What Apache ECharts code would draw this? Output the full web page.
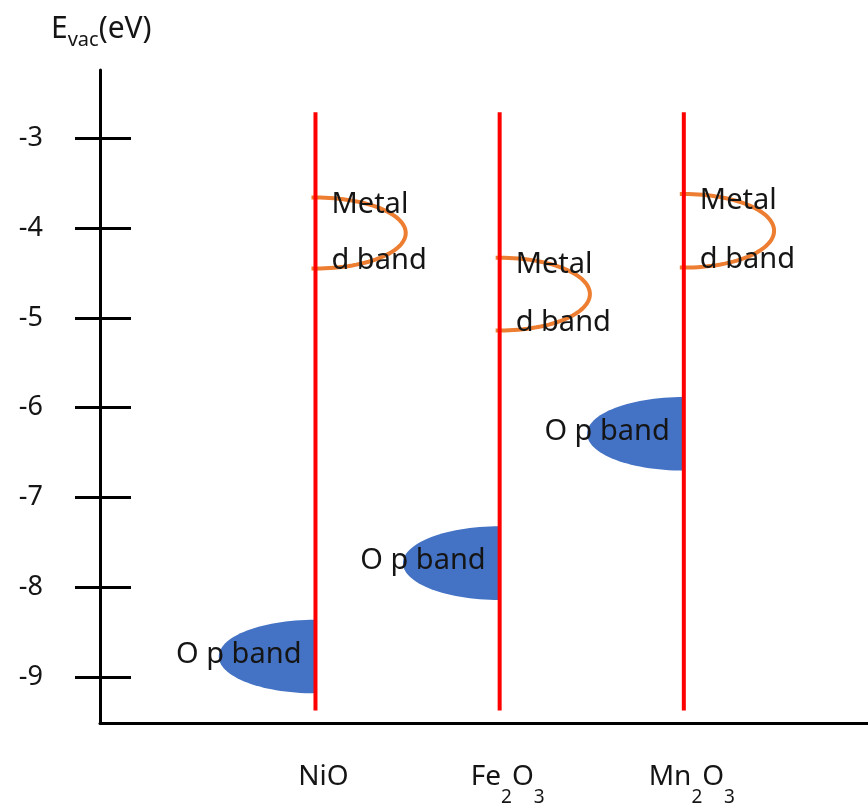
<!DOCTYPE html>
<html>
<head>
<meta charset="utf-8">
<script src="https://cdn.jsdelivr.net/npm/echarts@6/dist/echarts.min.js"></script>
<style>
  html, body { margin: 0; padding: 0; background: #fff; }
  #chart { width: 868px; height: 809px; }
</style>
</head>
<body>
<div id="chart"></div>
<script>
// ---- data ----
const materials = ['NiO', 'Fe2O3', 'Mn2O3'];
const materialLabels = ['{m|NiO}', '{m|Fe}{s|2}{m|O}{s|3}', '{m|Mn}{s|2}{m|O}{s|3}'];
const dBandTop = [-3.66, -4.33, -3.62];
const dBandBottom = [-4.45, -5.14, -4.44];
const opBandTop = [-8.36, -7.32, -5.88];
const opBandBottom = [-9.18, -8.14, -6.70];
const yTicks = [-3, -4, -5, -6, -7, -8, -9];
const lineTop = -2.71;
const lineBottom = -9.37;

// ---- drawing constants ----
const FONT = 'Noto Sans';
const TEXT_COLOR = '#151515';
const D_WIDTH = 0.49;   // x-units
const O_WIDTH = 0.525;  // x-units

const bandData = materials.map((m, i) => [i + 1, dBandTop[i], dBandBottom[i], opBandTop[i], opBandBottom[i]]);

function halfEllipse(cx, cy, rx, ry, side, n) {
  const pts = [];
  for (let k = 0; k <= n; k++) {
    const t = -Math.PI / 2 + Math.PI * k / n;
    pts.push([cx + side * rx * Math.cos(t), cy + ry * Math.sin(t)]);
  }
  return pts;
}

function renderItem(params, api) {
  const x = api.value(0);
  const cx = api.coord([x, lineTop])[0];
  const lt = api.coord([x, lineTop])[1];
  const lb = api.coord([x, lineBottom])[1];
  const dt = api.coord([x, api.value(1)])[1];
  const db = api.coord([x, api.value(2)])[1];
  const ot = api.coord([x, api.value(3)])[1];
  const ob = api.coord([x, api.value(4)])[1];
  const drx = api.size([D_WIDTH, 0])[0];
  const orx = api.size([O_WIDTH, 0])[0];

  const dPts = halfEllipse(cx, (dt + db) / 2, drx, (db - dt) / 2, 1, 60);
  dPts.unshift([cx - 4, dt]);
  dPts.push([cx - 4, db]);
  const oPts = halfEllipse(cx, (ot + ob) / 2, orx, (ob - ot) / 2, -1, 60);

  const textStyle = { fontSize: 29, fontFamily: FONT, fill: TEXT_COLOR, verticalAlign: 'middle' };
  return {
    type: 'group',
    children: [
      { type: 'polygon', shape: { points: oPts }, style: { fill: '#4472C4' } },
      { type: 'polyline', shape: { points: dPts }, style: { stroke: '#ED7D31', lineWidth: 4, fill: null } },
      { type: 'line', shape: { x1: cx, y1: lt, x2: cx, y2: lb }, style: { stroke: '#FF0000', lineWidth: 4 } },
      { type: 'text', style: Object.assign({ text: 'Metal', x: cx + 16, y: dt + 7, align: 'left' }, textStyle) },
      { type: 'text', style: Object.assign({ text: 'd band', x: cx + 16, y: db - 8, align: 'left' }, textStyle) },
      { type: 'text', style: Object.assign({ text: 'O p band', x: cx - 14, y: (ot + ob) / 2 - 2, align: 'right' }, textStyle) }
    ]
  };
}

const chart = echarts.init(document.getElementById('chart'), null, { renderer: 'canvas' });
chart.setOption({
  animation: false,
  backgroundColor: '#ffffff',
  title: {
    text: '{e|E}{s|vac}{e|(eV)}',
    left: 51,
    top: 8,
    padding: 0,
    textStyle: {
      fontWeight: 'normal',
      rich: {
        e: { fontSize: 30, fontFamily: FONT, fontWeight: 'normal', color: TEXT_COLOR },
        s: { fontSize: 20, fontFamily: FONT, fontWeight: 'normal', color: TEXT_COLOR, padding: [22, 0, 0, 0] }
      }
    }
  },
  grid: { left: 100, right: 0, top: 70, bottom: 86, containLabel: false },
  xAxis: {
    type: 'value',
    min: -0.17,
    max: 4.0,
    splitLine: { show: false },
    axisTick: { show: false },
    axisLine: { onZero: false, lineStyle: { color: '#000', width: 3 } },
    axisLabel: {
      customValues: [1, 2, 3],
      margin: 25,
      padding: [0, 0, 0, 16],
      formatter: v => materialLabels[Math.round(v) - 1] || '',
      rich: {
        m: { fontSize: 28, fontFamily: FONT, color: TEXT_COLOR, lineHeight: 59 },
        s: { fontSize: 19, fontFamily: FONT, color: TEXT_COLOR, lineHeight: 19, padding: [40, 0, 0, 0] }
      }
    }
  },
  yAxis: [
    {
      type: 'value',
      position: 'left',
      offset: 0,
      min: -9.51,
      max: -2.24,
      splitLine: { show: false },
      axisLine: { show: true, onZero: false, lineStyle: { color: '#000', width: 3 } },
      axisTick: { show: true, customValues: yTicks, length: 25, inside: false, lineStyle: { color: '#000', width: 3 } },
      axisLabel: { customValues: yTicks, margin: 57, fontSize: 27, fontFamily: FONT, color: TEXT_COLOR }
    },
    {
      type: 'value',
      position: 'left',
      offset: 0,
      min: -9.51,
      max: -2.24,
      splitLine: { show: false },
      axisLine: { show: false, onZero: false },
      axisTick: { show: true, customValues: yTicks, length: 31, inside: true, lineStyle: { color: '#000', width: 3 } },
      axisLabel: { show: false }
    }
  ],
  series: [{
    type: 'custom',
    renderItem: renderItem,
    data: bandData,
    encode: { x: 0, y: 1 },
    clip: false,
    silent: true
  }]
});
</script>
</body>
</html>
